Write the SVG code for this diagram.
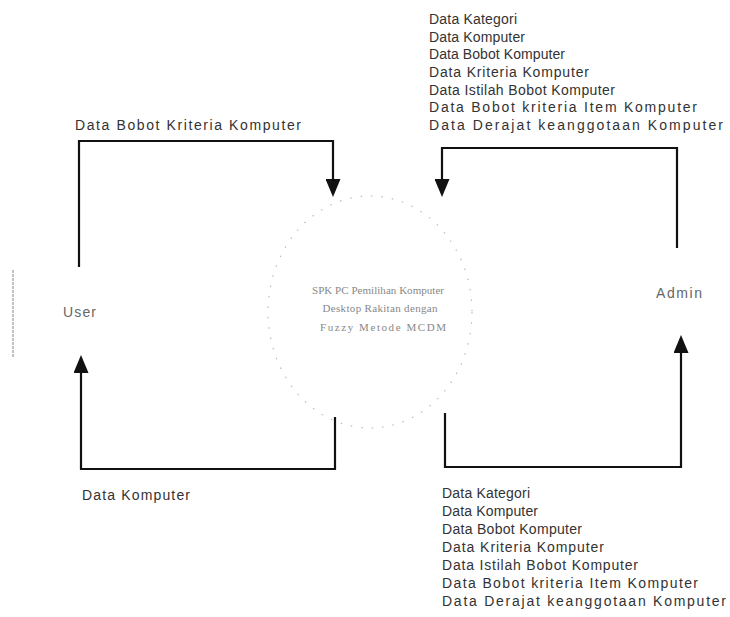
<svg xmlns="http://www.w3.org/2000/svg" width="730" height="617" viewBox="0 0 730 617">
<style>
.lbl{font-family:"Liberation Sans",Arial,sans-serif;font-size:14px;fill:#333;}
.ent{font-family:"Liberation Sans",Arial,sans-serif;font-size:14px;fill:#666;}
.proc{font-family:"Liberation Serif","Times New Roman",serif;font-size:11px;fill:#888;}
.flow{fill:none;stroke:#111;stroke-width:2.2;}
</style>
<defs>
<marker id="arr" markerUnits="userSpaceOnUse" viewBox="0 0 18 15" markerWidth="18" markerHeight="15" refX="10" refY="7.5" orient="auto">
<path d="M0,0 L18,7.5 L0,15 z" fill="#111"/>
</marker>
</defs>
<rect width="730" height="617" fill="#fff"/>

<g id="user">
<line x1="13" y1="270" x2="13" y2="357" stroke="#999" stroke-width="1.2" stroke-dasharray="3 1"/>
<text class="ent" x="63" y="317" textLength="33" lengthAdjust="spacing">User</text>
</g>

<g id="process">
<ellipse cx="370" cy="312" rx="102" ry="116" fill="none" stroke="#bbb" stroke-width="1.2" stroke-dasharray="1.5 9"/>
<text class="proc" x="378" y="294" text-anchor="middle" textLength="132" lengthAdjust="spacing">SPK PC Pemilihan Komputer</text>
<text class="proc" x="380" y="312" text-anchor="middle" textLength="115" lengthAdjust="spacing">Desktop Rakitan dengan</text>
<text class="proc" x="383" y="331" text-anchor="middle" textLength="126" lengthAdjust="spacing">Fuzzy Metode MCDM</text>
</g>

<g id="admin">
<text class="ent" x="656" y="298" textLength="46" lengthAdjust="spacing">Admin</text>
</g>

<g id="connectors">
<path class="flow" d="M79,267 V141 H333 V189" marker-end="url(#arr)"/>
<path class="flow" d="M335,417 V469 H81 V363" marker-end="url(#arr)"/>
<path class="flow" d="M677,248 V148 H442 V189" marker-end="url(#arr)"/>
<path class="flow" d="M445,413 V467 H681 V343" marker-end="url(#arr)"/>
</g>

<g id="labels">
<text class="lbl" x="75" y="130" textLength="226" lengthAdjust="spacing">Data Bobot Kriteria Komputer</text>
<text class="lbl" x="82" y="500" textLength="108" lengthAdjust="spacing">Data Komputer</text>

<text class="lbl" x="429" y="24" textLength="88" lengthAdjust="spacing">Data Kategori</text>
<text class="lbl" x="429" y="42" textLength="96" lengthAdjust="spacing">Data Komputer</text>
<text class="lbl" x="429" y="59" textLength="136" lengthAdjust="spacing">Data Bobot Komputer</text>
<text class="lbl" x="429" y="77" textLength="160" lengthAdjust="spacing">Data Kriteria Komputer</text>
<text class="lbl" x="429" y="95" textLength="186" lengthAdjust="spacing">Data Istilah Bobot Komputer</text>
<text class="lbl" x="429" y="112" textLength="268" lengthAdjust="spacing">Data Bobot kriteria Item Komputer</text>
<text class="lbl" x="429" y="130" textLength="294" lengthAdjust="spacing">Data Derajat keanggotaan Komputer</text>

<text class="lbl" x="442" y="498" textLength="88" lengthAdjust="spacing">Data Kategori</text>
<text class="lbl" x="442" y="516" textLength="96" lengthAdjust="spacing">Data Komputer</text>
<text class="lbl" x="442" y="534" textLength="140" lengthAdjust="spacing">Data Bobot Komputer</text>
<text class="lbl" x="442" y="552" textLength="162" lengthAdjust="spacing">Data Kriteria Komputer</text>
<text class="lbl" x="442" y="570" textLength="196" lengthAdjust="spacing">Data Istilah Bobot Komputer</text>
<text class="lbl" x="442" y="588" textLength="256" lengthAdjust="spacing">Data Bobot kriteria Item Komputer</text>
<text class="lbl" x="442" y="606" textLength="284" lengthAdjust="spacing">Data Derajat keanggotaan Komputer</text>
</g>
</svg>
